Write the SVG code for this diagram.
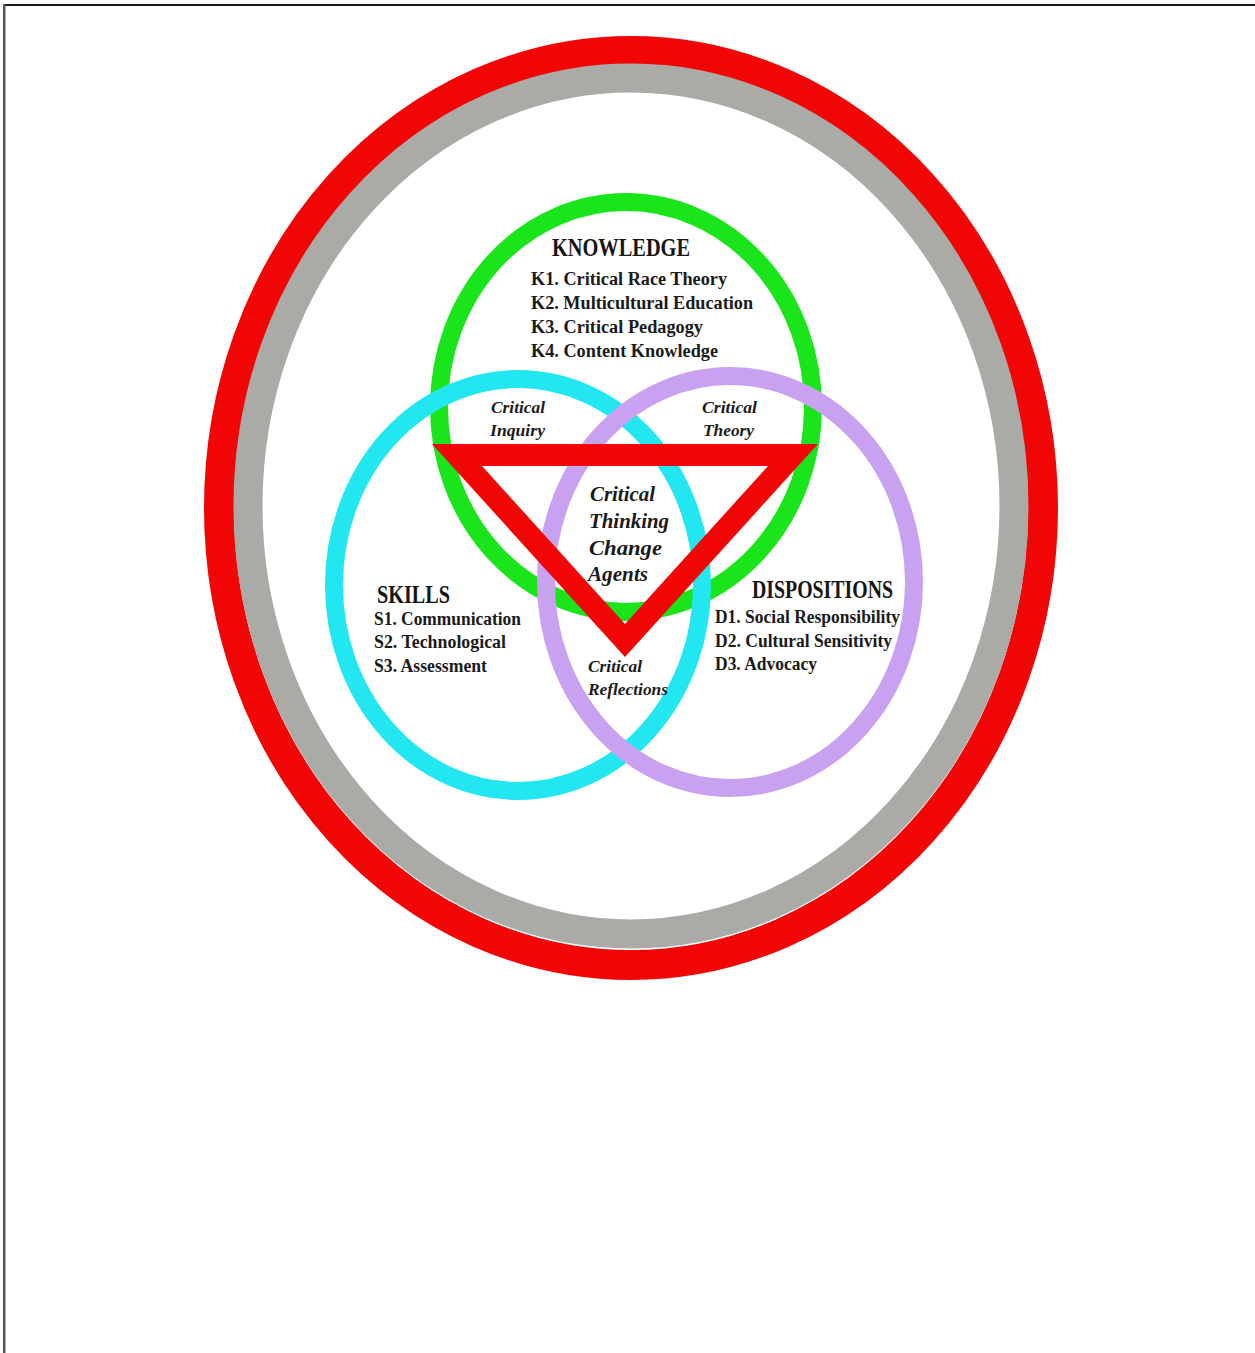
<svg xmlns="http://www.w3.org/2000/svg" width="1255" height="1353" viewBox="0 0 1255 1353">
<style>
.ring{fill:none}
.head{font-family:"Liberation Serif","Times New Roman",serif;font-weight:bold;font-size:25px;fill:#151515}
.item{font-family:"Liberation Serif","Times New Roman",serif;font-weight:bold;font-size:18px;fill:#1a1a1a}
.ital{font-family:"Liberation Serif","Times New Roman",serif;font-weight:bold;font-style:italic;font-size:17px;fill:#1a1a1a}
.center{font-family:"Liberation Serif","Times New Roman",serif;font-weight:bold;font-style:italic;font-size:21px;fill:#1a1a1a}
</style>
<rect width="1255" height="1353" fill="#ffffff"/>
<g id="frame">
<rect x="3" y="4" width="1252" height="2" fill="#1a1a1a"/>
<rect x="3" y="4" width="2.5" height="1349" fill="#555555"/>
</g>
<g id="outer-ring">
<ellipse cx="631" cy="508" rx="412" ry="457" fill="none" stroke="#f20505" stroke-width="30"/>
<ellipse cx="631" cy="506" rx="383" ry="428" fill="none" stroke="#aaaaa6" stroke-width="29"/>
</g>
<g id="knowledge">
<ellipse class="ring" cx="626" cy="407" rx="187" ry="205" stroke="#1ae51a" stroke-width="18"/>
<text class="head" x="552" y="256" textLength="138" lengthAdjust="spacingAndGlyphs">KNOWLEDGE</text>
<text class="item" x="531" y="285" textLength="196" lengthAdjust="spacingAndGlyphs">K1. Critical Race Theory</text>
<text class="item" x="531" y="309" textLength="222" lengthAdjust="spacingAndGlyphs">K2. Multicultural Education</text>
<text class="item" x="531" y="333" textLength="172" lengthAdjust="spacingAndGlyphs">K3. Critical Pedagogy</text>
<text class="item" x="531" y="357" textLength="187" lengthAdjust="spacingAndGlyphs">K4. Content Knowledge</text>
</g>
<g id="skills">
<ellipse class="ring" cx="518" cy="585" rx="184" ry="206" stroke="#22e6f0" stroke-width="18"/>
<text class="head" x="377" y="603" textLength="73" lengthAdjust="spacingAndGlyphs">SKILLS</text>
<text class="item" x="374" y="625" textLength="147" lengthAdjust="spacingAndGlyphs">S1. Communication</text>
<text class="item" x="374" y="648" textLength="132" lengthAdjust="spacingAndGlyphs">S2. Technological</text>
<text class="item" x="374" y="672" textLength="113" lengthAdjust="spacingAndGlyphs">S3. Assessment</text>
</g>
<g id="dispositions">
<ellipse class="ring" cx="730" cy="582" rx="184" ry="206" stroke="#c8a2f0" stroke-width="18"/>
<text class="head" x="752" y="598" textLength="141" lengthAdjust="spacingAndGlyphs">DISPOSITIONS</text>
<text class="item" x="715" y="623" textLength="185" lengthAdjust="spacingAndGlyphs">D1. Social Responsibility</text>
<text class="item" x="715" y="647" textLength="177" lengthAdjust="spacingAndGlyphs">D2. Cultural Sensitivity</text>
<text class="item" x="715" y="670" textLength="102" lengthAdjust="spacingAndGlyphs">D3. Advocacy</text>
</g>
<g id="triangle">
<path d="M432 444 L818 444 L625 657 Z M482 466 L625 624 L768 466 Z" fill="#f20505" fill-rule="evenodd"/>
</g>
<g id="overlap-labels">
<text class="ital" x="491" y="413" textLength="54" lengthAdjust="spacingAndGlyphs">Critical</text>
<text class="ital" x="490" y="436" textLength="55" lengthAdjust="spacingAndGlyphs">Inquiry</text>
<text class="ital" x="702" y="413" textLength="55" lengthAdjust="spacingAndGlyphs">Critical</text>
<text class="ital" x="703" y="436" textLength="51" lengthAdjust="spacingAndGlyphs">Theory</text>
<text class="ital" x="588" y="672" textLength="54" lengthAdjust="spacingAndGlyphs">Critical</text>
<text class="ital" x="588" y="695" textLength="80" lengthAdjust="spacingAndGlyphs">Reflections</text>
</g>
<g id="center-label">
<text class="center" x="590" y="501" textLength="65" lengthAdjust="spacingAndGlyphs">Critical</text>
<text class="center" x="589" y="528" textLength="80" lengthAdjust="spacingAndGlyphs">Thinking</text>
<text class="center" x="589" y="555" textLength="73" lengthAdjust="spacingAndGlyphs">Change</text>
<text class="center" x="588" y="581" textLength="60" lengthAdjust="spacingAndGlyphs">Agents</text>
</g>
</svg>
